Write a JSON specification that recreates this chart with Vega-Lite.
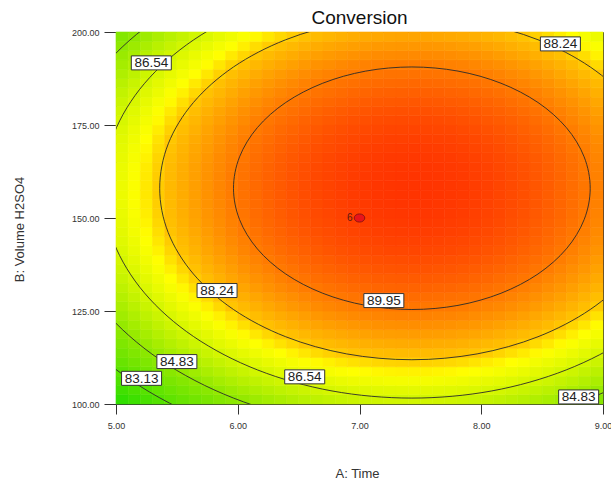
{
"width": 487, "height": 372,
"autosize": {"type": "none"},
"padding": {"left": 116, "top": 32, "right": 8, "bottom": 75},
"background": "white",
"title": {"text": "Conversion", "fontSize": 19, "font": "Liberation Sans", "fontWeight": "normal", "color": "#111", "offset": 7, "baseline": "alphabetic", "anchor": "middle", "dy": 22},
"config": {"view": {"stroke": null}, "axis": {"labelFont": "Liberation Sans", "titleFont": "Liberation Sans", "grid": false, "zindex": 1}},
"datasets": {
"labels": [
{"t":5.29,"v":191.7,"lab":"86.54"},
{"t":8.65,"v":196.8,"lab":"88.24"},
{"t":5.83,"v":130.5,"lab":"88.24"},
{"t":7.2,"v":127.8,"lab":"89.95"},
{"t":5.5,"v":111.4,"lab":"84.83"},
{"t":5.21,"v":106.9,"lab":"83.13"},
{"t":6.55,"v":107.3,"lab":"86.54"},
{"t":8.8,"v":101.9,"lab":"84.83"}
],
"contours": [
{"lev":"89.95","i":0,"t":8.895,"v":158},{"lev":"89.95","i":1,"t":8.845,"v":166.44},{"lev":"89.95","i":2,"t":8.699,"v":174.3},{"lev":"89.95","i":3,"t":8.466,"v":181.05},{"lev":"89.95","i":4,"t":8.162,"v":186.23},{"lev":"89.95","i":5,"t":7.809,"v":189.49},{"lev":"89.95","i":6,"t":7.43,"v":190.6},{"lev":"89.95","i":7,"t":7.051,"v":189.49},{"lev":"89.95","i":8,"t":6.698,"v":186.23},{"lev":"89.95","i":9,"t":6.394,"v":181.05},{"lev":"89.95","i":10,"t":6.161,"v":174.3},{"lev":"89.95","i":11,"t":6.015,"v":166.44},{"lev":"89.95","i":12,"t":5.965,"v":158},{"lev":"89.95","i":13,"t":6.015,"v":149.56},{"lev":"89.95","i":14,"t":6.161,"v":141.7},{"lev":"89.95","i":15,"t":6.394,"v":134.95},{"lev":"89.95","i":16,"t":6.698,"v":129.77},{"lev":"89.95","i":17,"t":7.051,"v":126.51},{"lev":"89.95","i":18,"t":7.43,"v":125.4},{"lev":"89.95","i":19,"t":7.809,"v":126.51},{"lev":"89.95","i":20,"t":8.162,"v":129.77},{"lev":"89.95","i":21,"t":8.466,"v":134.95},{"lev":"89.95","i":22,"t":8.699,"v":141.7},{"lev":"89.95","i":23,"t":8.845,"v":149.56},
{"lev":"88.24","i":0,"t":9.502,"v":158},{"lev":"88.24","i":1,"t":9.431,"v":169.93},{"lev":"88.24","i":2,"t":9.224,"v":181.05},{"lev":"88.24","i":3,"t":8.895,"v":190.6},{"lev":"88.24","i":4,"t":8.466,"v":197.92},{"lev":"88.24","i":5,"t":7.966,"v":202.53},{"lev":"88.24","i":6,"t":7.43,"v":204.1},{"lev":"88.24","i":7,"t":6.894,"v":202.53},{"lev":"88.24","i":8,"t":6.394,"v":197.92},{"lev":"88.24","i":9,"t":5.965,"v":190.6},{"lev":"88.24","i":10,"t":5.636,"v":181.05},{"lev":"88.24","i":11,"t":5.429,"v":169.93},{"lev":"88.24","i":12,"t":5.359,"v":158},{"lev":"88.24","i":13,"t":5.429,"v":146.07},{"lev":"88.24","i":14,"t":5.636,"v":134.95},{"lev":"88.24","i":15,"t":5.965,"v":125.4},{"lev":"88.24","i":16,"t":6.394,"v":118.08},{"lev":"88.24","i":17,"t":6.894,"v":113.47},{"lev":"88.24","i":18,"t":7.43,"v":111.9},{"lev":"88.24","i":19,"t":7.966,"v":113.47},{"lev":"88.24","i":20,"t":8.466,"v":118.08},{"lev":"88.24","i":21,"t":8.895,"v":125.4},{"lev":"88.24","i":22,"t":9.224,"v":134.95},{"lev":"88.24","i":23,"t":9.431,"v":146.07},
{"lev":"86.54","i":0,"t":9.965,"v":158},{"lev":"86.54","i":1,"t":9.878,"v":172.6},{"lev":"86.54","i":2,"t":9.625,"v":186.21},{"lev":"86.54","i":3,"t":9.222,"v":197.89},{"lev":"86.54","i":4,"t":8.697,"v":206.85},{"lev":"86.54","i":5,"t":8.086,"v":212.49},{"lev":"86.54","i":6,"t":7.43,"v":214.41},{"lev":"86.54","i":7,"t":6.774,"v":212.49},{"lev":"86.54","i":8,"t":6.163,"v":206.85},{"lev":"86.54","i":9,"t":5.638,"v":197.89},{"lev":"86.54","i":10,"t":5.235,"v":186.21},{"lev":"86.54","i":11,"t":4.982,"v":172.6},{"lev":"86.54","i":12,"t":4.895,"v":158},{"lev":"86.54","i":13,"t":4.982,"v":143.4},{"lev":"86.54","i":14,"t":5.235,"v":129.8},{"lev":"86.54","i":15,"t":5.638,"v":118.11},{"lev":"86.54","i":16,"t":6.163,"v":109.15},{"lev":"86.54","i":17,"t":6.774,"v":103.51},{"lev":"86.54","i":18,"t":7.43,"v":101.59},{"lev":"86.54","i":19,"t":8.086,"v":103.51},{"lev":"86.54","i":20,"t":8.697,"v":109.15},{"lev":"86.54","i":21,"t":9.222,"v":118.11},{"lev":"86.54","i":22,"t":9.625,"v":129.8},{"lev":"86.54","i":23,"t":9.878,"v":143.4},
{"lev":"84.83","i":0,"t":10.357,"v":158},{"lev":"84.83","i":1,"t":10.258,"v":174.86},{"lev":"84.83","i":2,"t":9.965,"v":190.58},{"lev":"84.83","i":3,"t":9.5,"v":204.07},{"lev":"84.83","i":4,"t":8.894,"v":214.42},{"lev":"84.83","i":5,"t":8.188,"v":220.93},{"lev":"84.83","i":6,"t":7.43,"v":223.15},{"lev":"84.83","i":7,"t":6.672,"v":220.93},{"lev":"84.83","i":8,"t":5.966,"v":214.42},{"lev":"84.83","i":9,"t":5.36,"v":204.07},{"lev":"84.83","i":10,"t":4.895,"v":190.58},{"lev":"84.83","i":11,"t":4.602,"v":174.86},{"lev":"84.83","i":12,"t":4.503,"v":158},{"lev":"84.83","i":13,"t":4.602,"v":141.14},{"lev":"84.83","i":14,"t":4.895,"v":125.43},{"lev":"84.83","i":15,"t":5.36,"v":111.93},{"lev":"84.83","i":16,"t":5.966,"v":101.58},{"lev":"84.83","i":17,"t":6.672,"v":95.07},{"lev":"84.83","i":18,"t":7.43,"v":92.85},{"lev":"84.83","i":19,"t":8.188,"v":95.07},{"lev":"84.83","i":20,"t":8.894,"v":101.58},{"lev":"84.83","i":21,"t":9.5,"v":111.93},{"lev":"84.83","i":22,"t":9.965,"v":125.43},{"lev":"84.83","i":23,"t":10.258,"v":141.14},
{"lev":"83.13","i":0,"t":10.702,"v":158},{"lev":"83.13","i":1,"t":10.59,"v":176.84},{"lev":"83.13","i":2,"t":10.263,"v":194.41},{"lev":"83.13","i":3,"t":9.743,"v":209.48},{"lev":"83.13","i":4,"t":9.066,"v":221.05},{"lev":"83.13","i":5,"t":8.277,"v":228.33},{"lev":"83.13","i":6,"t":7.43,"v":230.81},{"lev":"83.13","i":7,"t":6.583,"v":228.33},{"lev":"83.13","i":8,"t":5.794,"v":221.05},{"lev":"83.13","i":9,"t":5.117,"v":209.48},{"lev":"83.13","i":10,"t":4.597,"v":194.41},{"lev":"83.13","i":11,"t":4.27,"v":176.84},{"lev":"83.13","i":12,"t":4.158,"v":158},{"lev":"83.13","i":13,"t":4.27,"v":139.16},{"lev":"83.13","i":14,"t":4.597,"v":121.6},{"lev":"83.13","i":15,"t":5.117,"v":106.52},{"lev":"83.13","i":16,"t":5.794,"v":94.95},{"lev":"83.13","i":17,"t":6.583,"v":87.67},{"lev":"83.13","i":18,"t":7.43,"v":85.19},{"lev":"83.13","i":19,"t":8.277,"v":87.67},{"lev":"83.13","i":20,"t":9.066,"v":94.95},{"lev":"83.13","i":21,"t":9.743,"v":106.52},{"lev":"83.13","i":22,"t":10.263,"v":121.6},{"lev":"83.13","i":23,"t":10.59,"v":139.16}
],
"grid": [
{"t":5.05,"v":101.25,"c":81.97},{"t":5.15,"v":101.25,"c":82.34},{"t":5.25,"v":101.25,"c":82.69},{"t":5.35,"v":101.25,"c":83.03},{"t":5.45,"v":101.25,"c":83.36},{"t":5.55,"v":101.25,"c":83.66},{"t":5.65,"v":101.25,"c":83.95},{"t":5.75,"v":101.25,"c":84.23},{"t":5.85,"v":101.25,"c":84.49},{"t":5.95,"v":101.25,"c":84.73},{"t":6.05,"v":101.25,"c":84.96},{"t":6.15,"v":101.25,"c":85.17},{"t":6.25,"v":101.25,"c":85.37},{"t":6.35,"v":101.25,"c":85.55},{"t":6.45,"v":101.25,"c":85.71},{"t":6.55,"v":101.25,"c":85.86},{"t":6.65,"v":101.25,"c":86.0},{"t":6.75,"v":101.25,"c":86.11},{"t":6.85,"v":101.25,"c":86.21},{"t":6.95,"v":101.25,"c":86.3},{"t":7.05,"v":101.25,"c":86.36},{"t":7.15,"v":101.25,"c":86.42},{"t":7.25,"v":101.25,"c":86.45},{"t":7.35,"v":101.25,"c":86.47},{"t":7.45,"v":101.25,"c":86.48},{"t":7.55,"v":101.25,"c":86.47},{"t":7.65,"v":101.25,"c":86.44},{"t":7.75,"v":101.25,"c":86.4},{"t":7.85,"v":101.25,"c":86.34},{"t":7.95,"v":101.25,"c":86.26},{"t":8.05,"v":101.25,"c":86.17},{"t":8.15,"v":101.25,"c":86.07},{"t":8.25,"v":101.25,"c":85.94},{"t":8.35,"v":101.25,"c":85.81},{"t":8.45,"v":101.25,"c":85.65},{"t":8.55,"v":101.25,"c":85.48},{"t":8.65,"v":101.25,"c":85.29},{"t":8.75,"v":101.25,"c":85.09},{"t":8.85,"v":101.25,"c":84.87},{"t":8.95,"v":101.25,"c":84.64},
{"t":5.05,"v":103.75,"c":82.41},{"t":5.15,"v":103.75,"c":82.78},{"t":5.25,"v":103.75,"c":83.13},{"t":5.35,"v":103.75,"c":83.47},{"t":5.45,"v":103.75,"c":83.8},{"t":5.55,"v":103.75,"c":84.1},{"t":5.65,"v":103.75,"c":84.39},{"t":5.75,"v":103.75,"c":84.67},{"t":5.85,"v":103.75,"c":84.93},{"t":5.95,"v":103.75,"c":85.17},{"t":6.05,"v":103.75,"c":85.4},{"t":6.15,"v":103.75,"c":85.61},{"t":6.25,"v":103.75,"c":85.81},{"t":6.35,"v":103.75,"c":85.99},{"t":6.45,"v":103.75,"c":86.15},{"t":6.55,"v":103.75,"c":86.3},{"t":6.65,"v":103.75,"c":86.44},{"t":6.75,"v":103.75,"c":86.55},{"t":6.85,"v":103.75,"c":86.65},{"t":6.95,"v":103.75,"c":86.74},{"t":7.05,"v":103.75,"c":86.8},{"t":7.15,"v":103.75,"c":86.86},{"t":7.25,"v":103.75,"c":86.89},{"t":7.35,"v":103.75,"c":86.91},{"t":7.45,"v":103.75,"c":86.92},{"t":7.55,"v":103.75,"c":86.91},{"t":7.65,"v":103.75,"c":86.88},{"t":7.75,"v":103.75,"c":86.84},{"t":7.85,"v":103.75,"c":86.78},{"t":7.95,"v":103.75,"c":86.7},{"t":8.05,"v":103.75,"c":86.61},{"t":8.15,"v":103.75,"c":86.51},{"t":8.25,"v":103.75,"c":86.38},{"t":8.35,"v":103.75,"c":86.25},{"t":8.45,"v":103.75,"c":86.09},{"t":8.55,"v":103.75,"c":85.92},{"t":8.65,"v":103.75,"c":85.73},{"t":8.75,"v":103.75,"c":85.53},{"t":8.85,"v":103.75,"c":85.31},{"t":8.95,"v":103.75,"c":85.08},
{"t":5.05,"v":106.25,"c":82.84},{"t":5.15,"v":106.25,"c":83.21},{"t":5.25,"v":106.25,"c":83.56},{"t":5.35,"v":106.25,"c":83.9},{"t":5.45,"v":106.25,"c":84.23},{"t":5.55,"v":106.25,"c":84.53},{"t":5.65,"v":106.25,"c":84.82},{"t":5.75,"v":106.25,"c":85.1},{"t":5.85,"v":106.25,"c":85.36},{"t":5.95,"v":106.25,"c":85.6},{"t":6.05,"v":106.25,"c":85.83},{"t":6.15,"v":106.25,"c":86.04},{"t":6.25,"v":106.25,"c":86.24},{"t":6.35,"v":106.25,"c":86.42},{"t":6.45,"v":106.25,"c":86.58},{"t":6.55,"v":106.25,"c":86.73},{"t":6.65,"v":106.25,"c":86.87},{"t":6.75,"v":106.25,"c":86.98},{"t":6.85,"v":106.25,"c":87.08},{"t":6.95,"v":106.25,"c":87.17},{"t":7.05,"v":106.25,"c":87.23},{"t":7.15,"v":106.25,"c":87.29},{"t":7.25,"v":106.25,"c":87.32},{"t":7.35,"v":106.25,"c":87.34},{"t":7.45,"v":106.25,"c":87.35},{"t":7.55,"v":106.25,"c":87.34},{"t":7.65,"v":106.25,"c":87.31},{"t":7.75,"v":106.25,"c":87.27},{"t":7.85,"v":106.25,"c":87.21},{"t":7.95,"v":106.25,"c":87.13},{"t":8.05,"v":106.25,"c":87.04},{"t":8.15,"v":106.25,"c":86.94},{"t":8.25,"v":106.25,"c":86.81},{"t":8.35,"v":106.25,"c":86.68},{"t":8.45,"v":106.25,"c":86.52},{"t":8.55,"v":106.25,"c":86.35},{"t":8.65,"v":106.25,"c":86.16},{"t":8.75,"v":106.25,"c":85.96},{"t":8.85,"v":106.25,"c":85.74},{"t":8.95,"v":106.25,"c":85.51},
{"t":5.05,"v":108.75,"c":83.25},{"t":5.15,"v":108.75,"c":83.62},{"t":5.25,"v":108.75,"c":83.97},{"t":5.35,"v":108.75,"c":84.31},{"t":5.45,"v":108.75,"c":84.64},{"t":5.55,"v":108.75,"c":84.94},{"t":5.65,"v":108.75,"c":85.23},{"t":5.75,"v":108.75,"c":85.51},{"t":5.85,"v":108.75,"c":85.77},{"t":5.95,"v":108.75,"c":86.01},{"t":6.05,"v":108.75,"c":86.24},{"t":6.15,"v":108.75,"c":86.45},{"t":6.25,"v":108.75,"c":86.65},{"t":6.35,"v":108.75,"c":86.83},{"t":6.45,"v":108.75,"c":86.99},{"t":6.55,"v":108.75,"c":87.14},{"t":6.65,"v":108.75,"c":87.28},{"t":6.75,"v":108.75,"c":87.39},{"t":6.85,"v":108.75,"c":87.49},{"t":6.95,"v":108.75,"c":87.58},{"t":7.05,"v":108.75,"c":87.64},{"t":7.15,"v":108.75,"c":87.7},{"t":7.25,"v":108.75,"c":87.73},{"t":7.35,"v":108.75,"c":87.75},{"t":7.45,"v":108.75,"c":87.76},{"t":7.55,"v":108.75,"c":87.75},{"t":7.65,"v":108.75,"c":87.72},{"t":7.75,"v":108.75,"c":87.68},{"t":7.85,"v":108.75,"c":87.62},{"t":7.95,"v":108.75,"c":87.54},{"t":8.05,"v":108.75,"c":87.45},{"t":8.15,"v":108.75,"c":87.35},{"t":8.25,"v":108.75,"c":87.22},{"t":8.35,"v":108.75,"c":87.09},{"t":8.45,"v":108.75,"c":86.93},{"t":8.55,"v":108.75,"c":86.76},{"t":8.65,"v":108.75,"c":86.57},{"t":8.75,"v":108.75,"c":86.37},{"t":8.85,"v":108.75,"c":86.15},{"t":8.95,"v":108.75,"c":85.92},
{"t":5.05,"v":111.25,"c":83.63},{"t":5.15,"v":111.25,"c":84.0},{"t":5.25,"v":111.25,"c":84.35},{"t":5.35,"v":111.25,"c":84.69},{"t":5.45,"v":111.25,"c":85.02},{"t":5.55,"v":111.25,"c":85.32},{"t":5.65,"v":111.25,"c":85.61},{"t":5.75,"v":111.25,"c":85.89},{"t":5.85,"v":111.25,"c":86.15},{"t":5.95,"v":111.25,"c":86.39},{"t":6.05,"v":111.25,"c":86.62},{"t":6.15,"v":111.25,"c":86.83},{"t":6.25,"v":111.25,"c":87.03},{"t":6.35,"v":111.25,"c":87.21},{"t":6.45,"v":111.25,"c":87.37},{"t":6.55,"v":111.25,"c":87.52},{"t":6.65,"v":111.25,"c":87.66},{"t":6.75,"v":111.25,"c":87.77},{"t":6.85,"v":111.25,"c":87.87},{"t":6.95,"v":111.25,"c":87.96},{"t":7.05,"v":111.25,"c":88.02},{"t":7.15,"v":111.25,"c":88.08},{"t":7.25,"v":111.25,"c":88.11},{"t":7.35,"v":111.25,"c":88.13},{"t":7.45,"v":111.25,"c":88.14},{"t":7.55,"v":111.25,"c":88.13},{"t":7.65,"v":111.25,"c":88.1},{"t":7.75,"v":111.25,"c":88.06},{"t":7.85,"v":111.25,"c":88.0},{"t":7.95,"v":111.25,"c":87.92},{"t":8.05,"v":111.25,"c":87.83},{"t":8.15,"v":111.25,"c":87.73},{"t":8.25,"v":111.25,"c":87.6},{"t":8.35,"v":111.25,"c":87.47},{"t":8.45,"v":111.25,"c":87.31},{"t":8.55,"v":111.25,"c":87.14},{"t":8.65,"v":111.25,"c":86.95},{"t":8.75,"v":111.25,"c":86.75},{"t":8.85,"v":111.25,"c":86.53},{"t":8.95,"v":111.25,"c":86.3},
{"t":5.05,"v":113.75,"c":84.0},{"t":5.15,"v":113.75,"c":84.37},{"t":5.25,"v":113.75,"c":84.72},{"t":5.35,"v":113.75,"c":85.06},{"t":5.45,"v":113.75,"c":85.39},{"t":5.55,"v":113.75,"c":85.69},{"t":5.65,"v":113.75,"c":85.98},{"t":5.75,"v":113.75,"c":86.26},{"t":5.85,"v":113.75,"c":86.52},{"t":5.95,"v":113.75,"c":86.76},{"t":6.05,"v":113.75,"c":86.99},{"t":6.15,"v":113.75,"c":87.2},{"t":6.25,"v":113.75,"c":87.4},{"t":6.35,"v":113.75,"c":87.58},{"t":6.45,"v":113.75,"c":87.74},{"t":6.55,"v":113.75,"c":87.89},{"t":6.65,"v":113.75,"c":88.03},{"t":6.75,"v":113.75,"c":88.14},{"t":6.85,"v":113.75,"c":88.24},{"t":6.95,"v":113.75,"c":88.33},{"t":7.05,"v":113.75,"c":88.39},{"t":7.15,"v":113.75,"c":88.45},{"t":7.25,"v":113.75,"c":88.48},{"t":7.35,"v":113.75,"c":88.5},{"t":7.45,"v":113.75,"c":88.51},{"t":7.55,"v":113.75,"c":88.5},{"t":7.65,"v":113.75,"c":88.47},{"t":7.75,"v":113.75,"c":88.43},{"t":7.85,"v":113.75,"c":88.37},{"t":7.95,"v":113.75,"c":88.29},{"t":8.05,"v":113.75,"c":88.2},{"t":8.15,"v":113.75,"c":88.1},{"t":8.25,"v":113.75,"c":87.97},{"t":8.35,"v":113.75,"c":87.84},{"t":8.45,"v":113.75,"c":87.68},{"t":8.55,"v":113.75,"c":87.51},{"t":8.65,"v":113.75,"c":87.32},{"t":8.75,"v":113.75,"c":87.12},{"t":8.85,"v":113.75,"c":86.9},{"t":8.95,"v":113.75,"c":86.67},
{"t":5.05,"v":116.25,"c":84.35},{"t":5.15,"v":116.25,"c":84.72},{"t":5.25,"v":116.25,"c":85.07},{"t":5.35,"v":116.25,"c":85.41},{"t":5.45,"v":116.25,"c":85.74},{"t":5.55,"v":116.25,"c":86.04},{"t":5.65,"v":116.25,"c":86.33},{"t":5.75,"v":116.25,"c":86.61},{"t":5.85,"v":116.25,"c":86.87},{"t":5.95,"v":116.25,"c":87.11},{"t":6.05,"v":116.25,"c":87.34},{"t":6.15,"v":116.25,"c":87.55},{"t":6.25,"v":116.25,"c":87.75},{"t":6.35,"v":116.25,"c":87.93},{"t":6.45,"v":116.25,"c":88.09},{"t":6.55,"v":116.25,"c":88.24},{"t":6.65,"v":116.25,"c":88.38},{"t":6.75,"v":116.25,"c":88.49},{"t":6.85,"v":116.25,"c":88.59},{"t":6.95,"v":116.25,"c":88.68},{"t":7.05,"v":116.25,"c":88.74},{"t":7.15,"v":116.25,"c":88.8},{"t":7.25,"v":116.25,"c":88.83},{"t":7.35,"v":116.25,"c":88.85},{"t":7.45,"v":116.25,"c":88.86},{"t":7.55,"v":116.25,"c":88.85},{"t":7.65,"v":116.25,"c":88.82},{"t":7.75,"v":116.25,"c":88.78},{"t":7.85,"v":116.25,"c":88.72},{"t":7.95,"v":116.25,"c":88.64},{"t":8.05,"v":116.25,"c":88.55},{"t":8.15,"v":116.25,"c":88.45},{"t":8.25,"v":116.25,"c":88.32},{"t":8.35,"v":116.25,"c":88.19},{"t":8.45,"v":116.25,"c":88.03},{"t":8.55,"v":116.25,"c":87.86},{"t":8.65,"v":116.25,"c":87.67},{"t":8.75,"v":116.25,"c":87.47},{"t":8.85,"v":116.25,"c":87.25},{"t":8.95,"v":116.25,"c":87.02},
{"t":5.05,"v":118.75,"c":84.67},{"t":5.15,"v":118.75,"c":85.04},{"t":5.25,"v":118.75,"c":85.39},{"t":5.35,"v":118.75,"c":85.73},{"t":5.45,"v":118.75,"c":86.06},{"t":5.55,"v":118.75,"c":86.36},{"t":5.65,"v":118.75,"c":86.65},{"t":5.75,"v":118.75,"c":86.93},{"t":5.85,"v":118.75,"c":87.19},{"t":5.95,"v":118.75,"c":87.43},{"t":6.05,"v":118.75,"c":87.66},{"t":6.15,"v":118.75,"c":87.87},{"t":6.25,"v":118.75,"c":88.07},{"t":6.35,"v":118.75,"c":88.25},{"t":6.45,"v":118.75,"c":88.41},{"t":6.55,"v":118.75,"c":88.56},{"t":6.65,"v":118.75,"c":88.7},{"t":6.75,"v":118.75,"c":88.81},{"t":6.85,"v":118.75,"c":88.91},{"t":6.95,"v":118.75,"c":89.0},{"t":7.05,"v":118.75,"c":89.06},{"t":7.15,"v":118.75,"c":89.12},{"t":7.25,"v":118.75,"c":89.15},{"t":7.35,"v":118.75,"c":89.17},{"t":7.45,"v":118.75,"c":89.18},{"t":7.55,"v":118.75,"c":89.17},{"t":7.65,"v":118.75,"c":89.14},{"t":7.75,"v":118.75,"c":89.1},{"t":7.85,"v":118.75,"c":89.04},{"t":7.95,"v":118.75,"c":88.96},{"t":8.05,"v":118.75,"c":88.87},{"t":8.15,"v":118.75,"c":88.77},{"t":8.25,"v":118.75,"c":88.64},{"t":8.35,"v":118.75,"c":88.51},{"t":8.45,"v":118.75,"c":88.35},{"t":8.55,"v":118.75,"c":88.18},{"t":8.65,"v":118.75,"c":87.99},{"t":8.75,"v":118.75,"c":87.79},{"t":8.85,"v":118.75,"c":87.57},{"t":8.95,"v":118.75,"c":87.34},
{"t":5.05,"v":121.25,"c":84.98},{"t":5.15,"v":121.25,"c":85.35},{"t":5.25,"v":121.25,"c":85.7},{"t":5.35,"v":121.25,"c":86.04},{"t":5.45,"v":121.25,"c":86.37},{"t":5.55,"v":121.25,"c":86.67},{"t":5.65,"v":121.25,"c":86.96},{"t":5.75,"v":121.25,"c":87.24},{"t":5.85,"v":121.25,"c":87.5},{"t":5.95,"v":121.25,"c":87.74},{"t":6.05,"v":121.25,"c":87.97},{"t":6.15,"v":121.25,"c":88.18},{"t":6.25,"v":121.25,"c":88.38},{"t":6.35,"v":121.25,"c":88.56},{"t":6.45,"v":121.25,"c":88.72},{"t":6.55,"v":121.25,"c":88.87},{"t":6.65,"v":121.25,"c":89.01},{"t":6.75,"v":121.25,"c":89.12},{"t":6.85,"v":121.25,"c":89.22},{"t":6.95,"v":121.25,"c":89.31},{"t":7.05,"v":121.25,"c":89.37},{"t":7.15,"v":121.25,"c":89.43},{"t":7.25,"v":121.25,"c":89.46},{"t":7.35,"v":121.25,"c":89.48},{"t":7.45,"v":121.25,"c":89.49},{"t":7.55,"v":121.25,"c":89.48},{"t":7.65,"v":121.25,"c":89.45},{"t":7.75,"v":121.25,"c":89.41},{"t":7.85,"v":121.25,"c":89.35},{"t":7.95,"v":121.25,"c":89.27},{"t":8.05,"v":121.25,"c":89.18},{"t":8.15,"v":121.25,"c":89.08},{"t":8.25,"v":121.25,"c":88.95},{"t":8.35,"v":121.25,"c":88.82},{"t":8.45,"v":121.25,"c":88.66},{"t":8.55,"v":121.25,"c":88.49},{"t":8.65,"v":121.25,"c":88.3},{"t":8.75,"v":121.25,"c":88.1},{"t":8.85,"v":121.25,"c":87.88},{"t":8.95,"v":121.25,"c":87.65},
{"t":5.05,"v":123.75,"c":85.26},{"t":5.15,"v":123.75,"c":85.63},{"t":5.25,"v":123.75,"c":85.98},{"t":5.35,"v":123.75,"c":86.32},{"t":5.45,"v":123.75,"c":86.65},{"t":5.55,"v":123.75,"c":86.95},{"t":5.65,"v":123.75,"c":87.24},{"t":5.75,"v":123.75,"c":87.52},{"t":5.85,"v":123.75,"c":87.78},{"t":5.95,"v":123.75,"c":88.02},{"t":6.05,"v":123.75,"c":88.25},{"t":6.15,"v":123.75,"c":88.46},{"t":6.25,"v":123.75,"c":88.66},{"t":6.35,"v":123.75,"c":88.84},{"t":6.45,"v":123.75,"c":89.0},{"t":6.55,"v":123.75,"c":89.15},{"t":6.65,"v":123.75,"c":89.29},{"t":6.75,"v":123.75,"c":89.4},{"t":6.85,"v":123.75,"c":89.5},{"t":6.95,"v":123.75,"c":89.59},{"t":7.05,"v":123.75,"c":89.65},{"t":7.15,"v":123.75,"c":89.71},{"t":7.25,"v":123.75,"c":89.74},{"t":7.35,"v":123.75,"c":89.76},{"t":7.45,"v":123.75,"c":89.77},{"t":7.55,"v":123.75,"c":89.76},{"t":7.65,"v":123.75,"c":89.73},{"t":7.75,"v":123.75,"c":89.69},{"t":7.85,"v":123.75,"c":89.63},{"t":7.95,"v":123.75,"c":89.55},{"t":8.05,"v":123.75,"c":89.46},{"t":8.15,"v":123.75,"c":89.36},{"t":8.25,"v":123.75,"c":89.23},{"t":8.35,"v":123.75,"c":89.1},{"t":8.45,"v":123.75,"c":88.94},{"t":8.55,"v":123.75,"c":88.77},{"t":8.65,"v":123.75,"c":88.58},{"t":8.75,"v":123.75,"c":88.38},{"t":8.85,"v":123.75,"c":88.16},{"t":8.95,"v":123.75,"c":87.93},
{"t":5.05,"v":126.25,"c":85.53},{"t":5.15,"v":126.25,"c":85.9},{"t":5.25,"v":126.25,"c":86.25},{"t":5.35,"v":126.25,"c":86.59},{"t":5.45,"v":126.25,"c":86.92},{"t":5.55,"v":126.25,"c":87.22},{"t":5.65,"v":126.25,"c":87.51},{"t":5.75,"v":126.25,"c":87.79},{"t":5.85,"v":126.25,"c":88.05},{"t":5.95,"v":126.25,"c":88.29},{"t":6.05,"v":126.25,"c":88.52},{"t":6.15,"v":126.25,"c":88.73},{"t":6.25,"v":126.25,"c":88.93},{"t":6.35,"v":126.25,"c":89.11},{"t":6.45,"v":126.25,"c":89.27},{"t":6.55,"v":126.25,"c":89.42},{"t":6.65,"v":126.25,"c":89.56},{"t":6.75,"v":126.25,"c":89.67},{"t":6.85,"v":126.25,"c":89.77},{"t":6.95,"v":126.25,"c":89.86},{"t":7.05,"v":126.25,"c":89.92},{"t":7.15,"v":126.25,"c":89.98},{"t":7.25,"v":126.25,"c":90.01},{"t":7.35,"v":126.25,"c":90.03},{"t":7.45,"v":126.25,"c":90.04},{"t":7.55,"v":126.25,"c":90.03},{"t":7.65,"v":126.25,"c":90.0},{"t":7.75,"v":126.25,"c":89.96},{"t":7.85,"v":126.25,"c":89.9},{"t":7.95,"v":126.25,"c":89.82},{"t":8.05,"v":126.25,"c":89.73},{"t":8.15,"v":126.25,"c":89.63},{"t":8.25,"v":126.25,"c":89.5},{"t":8.35,"v":126.25,"c":89.37},{"t":8.45,"v":126.25,"c":89.21},{"t":8.55,"v":126.25,"c":89.04},{"t":8.65,"v":126.25,"c":88.85},{"t":8.75,"v":126.25,"c":88.65},{"t":8.85,"v":126.25,"c":88.43},{"t":8.95,"v":126.25,"c":88.2},
{"t":5.05,"v":128.75,"c":85.77},{"t":5.15,"v":128.75,"c":86.14},{"t":5.25,"v":128.75,"c":86.49},{"t":5.35,"v":128.75,"c":86.83},{"t":5.45,"v":128.75,"c":87.16},{"t":5.55,"v":128.75,"c":87.46},{"t":5.65,"v":128.75,"c":87.75},{"t":5.75,"v":128.75,"c":88.03},{"t":5.85,"v":128.75,"c":88.29},{"t":5.95,"v":128.75,"c":88.53},{"t":6.05,"v":128.75,"c":88.76},{"t":6.15,"v":128.75,"c":88.97},{"t":6.25,"v":128.75,"c":89.17},{"t":6.35,"v":128.75,"c":89.35},{"t":6.45,"v":128.75,"c":89.51},{"t":6.55,"v":128.75,"c":89.66},{"t":6.65,"v":128.75,"c":89.8},{"t":6.75,"v":128.75,"c":89.91},{"t":6.85,"v":128.75,"c":90.01},{"t":6.95,"v":128.75,"c":90.1},{"t":7.05,"v":128.75,"c":90.16},{"t":7.15,"v":128.75,"c":90.22},{"t":7.25,"v":128.75,"c":90.25},{"t":7.35,"v":128.75,"c":90.27},{"t":7.45,"v":128.75,"c":90.28},{"t":7.55,"v":128.75,"c":90.27},{"t":7.65,"v":128.75,"c":90.24},{"t":7.75,"v":128.75,"c":90.2},{"t":7.85,"v":128.75,"c":90.14},{"t":7.95,"v":128.75,"c":90.06},{"t":8.05,"v":128.75,"c":89.97},{"t":8.15,"v":128.75,"c":89.87},{"t":8.25,"v":128.75,"c":89.74},{"t":8.35,"v":128.75,"c":89.61},{"t":8.45,"v":128.75,"c":89.45},{"t":8.55,"v":128.75,"c":89.28},{"t":8.65,"v":128.75,"c":89.09},{"t":8.75,"v":128.75,"c":88.89},{"t":8.85,"v":128.75,"c":88.67},{"t":8.95,"v":128.75,"c":88.44},
{"t":5.05,"v":131.25,"c":86.0},{"t":5.15,"v":131.25,"c":86.37},{"t":5.25,"v":131.25,"c":86.72},{"t":5.35,"v":131.25,"c":87.06},{"t":5.45,"v":131.25,"c":87.39},{"t":5.55,"v":131.25,"c":87.69},{"t":5.65,"v":131.25,"c":87.98},{"t":5.75,"v":131.25,"c":88.26},{"t":5.85,"v":131.25,"c":88.52},{"t":5.95,"v":131.25,"c":88.76},{"t":6.05,"v":131.25,"c":88.99},{"t":6.15,"v":131.25,"c":89.2},{"t":6.25,"v":131.25,"c":89.4},{"t":6.35,"v":131.25,"c":89.58},{"t":6.45,"v":131.25,"c":89.74},{"t":6.55,"v":131.25,"c":89.89},{"t":6.65,"v":131.25,"c":90.03},{"t":6.75,"v":131.25,"c":90.14},{"t":6.85,"v":131.25,"c":90.24},{"t":6.95,"v":131.25,"c":90.33},{"t":7.05,"v":131.25,"c":90.39},{"t":7.15,"v":131.25,"c":90.45},{"t":7.25,"v":131.25,"c":90.48},{"t":7.35,"v":131.25,"c":90.5},{"t":7.45,"v":131.25,"c":90.51},{"t":7.55,"v":131.25,"c":90.5},{"t":7.65,"v":131.25,"c":90.47},{"t":7.75,"v":131.25,"c":90.43},{"t":7.85,"v":131.25,"c":90.37},{"t":7.95,"v":131.25,"c":90.29},{"t":8.05,"v":131.25,"c":90.2},{"t":8.15,"v":131.25,"c":90.1},{"t":8.25,"v":131.25,"c":89.97},{"t":8.35,"v":131.25,"c":89.84},{"t":8.45,"v":131.25,"c":89.68},{"t":8.55,"v":131.25,"c":89.51},{"t":8.65,"v":131.25,"c":89.32},{"t":8.75,"v":131.25,"c":89.12},{"t":8.85,"v":131.25,"c":88.9},{"t":8.95,"v":131.25,"c":88.67},
{"t":5.05,"v":133.75,"c":86.2},{"t":5.15,"v":133.75,"c":86.57},{"t":5.25,"v":133.75,"c":86.92},{"t":5.35,"v":133.75,"c":87.26},{"t":5.45,"v":133.75,"c":87.59},{"t":5.55,"v":133.75,"c":87.89},{"t":5.65,"v":133.75,"c":88.18},{"t":5.75,"v":133.75,"c":88.46},{"t":5.85,"v":133.75,"c":88.72},{"t":5.95,"v":133.75,"c":88.96},{"t":6.05,"v":133.75,"c":89.19},{"t":6.15,"v":133.75,"c":89.4},{"t":6.25,"v":133.75,"c":89.6},{"t":6.35,"v":133.75,"c":89.78},{"t":6.45,"v":133.75,"c":89.94},{"t":6.55,"v":133.75,"c":90.09},{"t":6.65,"v":133.75,"c":90.23},{"t":6.75,"v":133.75,"c":90.34},{"t":6.85,"v":133.75,"c":90.44},{"t":6.95,"v":133.75,"c":90.53},{"t":7.05,"v":133.75,"c":90.59},{"t":7.15,"v":133.75,"c":90.65},{"t":7.25,"v":133.75,"c":90.68},{"t":7.35,"v":133.75,"c":90.7},{"t":7.45,"v":133.75,"c":90.71},{"t":7.55,"v":133.75,"c":90.7},{"t":7.65,"v":133.75,"c":90.67},{"t":7.75,"v":133.75,"c":90.63},{"t":7.85,"v":133.75,"c":90.57},{"t":7.95,"v":133.75,"c":90.49},{"t":8.05,"v":133.75,"c":90.4},{"t":8.15,"v":133.75,"c":90.3},{"t":8.25,"v":133.75,"c":90.17},{"t":8.35,"v":133.75,"c":90.04},{"t":8.45,"v":133.75,"c":89.88},{"t":8.55,"v":133.75,"c":89.71},{"t":8.65,"v":133.75,"c":89.52},{"t":8.75,"v":133.75,"c":89.32},{"t":8.85,"v":133.75,"c":89.1},{"t":8.95,"v":133.75,"c":88.87},
{"t":5.05,"v":136.25,"c":86.39},{"t":5.15,"v":136.25,"c":86.76},{"t":5.25,"v":136.25,"c":87.11},{"t":5.35,"v":136.25,"c":87.45},{"t":5.45,"v":136.25,"c":87.78},{"t":5.55,"v":136.25,"c":88.08},{"t":5.65,"v":136.25,"c":88.37},{"t":5.75,"v":136.25,"c":88.65},{"t":5.85,"v":136.25,"c":88.91},{"t":5.95,"v":136.25,"c":89.15},{"t":6.05,"v":136.25,"c":89.38},{"t":6.15,"v":136.25,"c":89.59},{"t":6.25,"v":136.25,"c":89.79},{"t":6.35,"v":136.25,"c":89.97},{"t":6.45,"v":136.25,"c":90.13},{"t":6.55,"v":136.25,"c":90.28},{"t":6.65,"v":136.25,"c":90.42},{"t":6.75,"v":136.25,"c":90.53},{"t":6.85,"v":136.25,"c":90.63},{"t":6.95,"v":136.25,"c":90.72},{"t":7.05,"v":136.25,"c":90.78},{"t":7.15,"v":136.25,"c":90.84},{"t":7.25,"v":136.25,"c":90.87},{"t":7.35,"v":136.25,"c":90.89},{"t":7.45,"v":136.25,"c":90.9},{"t":7.55,"v":136.25,"c":90.89},{"t":7.65,"v":136.25,"c":90.86},{"t":7.75,"v":136.25,"c":90.82},{"t":7.85,"v":136.25,"c":90.76},{"t":7.95,"v":136.25,"c":90.68},{"t":8.05,"v":136.25,"c":90.59},{"t":8.15,"v":136.25,"c":90.49},{"t":8.25,"v":136.25,"c":90.36},{"t":8.35,"v":136.25,"c":90.23},{"t":8.45,"v":136.25,"c":90.07},{"t":8.55,"v":136.25,"c":89.9},{"t":8.65,"v":136.25,"c":89.71},{"t":8.75,"v":136.25,"c":89.51},{"t":8.85,"v":136.25,"c":89.29},{"t":8.95,"v":136.25,"c":89.06},
{"t":5.05,"v":138.75,"c":86.55},{"t":5.15,"v":138.75,"c":86.92},{"t":5.25,"v":138.75,"c":87.27},{"t":5.35,"v":138.75,"c":87.61},{"t":5.45,"v":138.75,"c":87.94},{"t":5.55,"v":138.75,"c":88.24},{"t":5.65,"v":138.75,"c":88.53},{"t":5.75,"v":138.75,"c":88.81},{"t":5.85,"v":138.75,"c":89.07},{"t":5.95,"v":138.75,"c":89.31},{"t":6.05,"v":138.75,"c":89.54},{"t":6.15,"v":138.75,"c":89.75},{"t":6.25,"v":138.75,"c":89.95},{"t":6.35,"v":138.75,"c":90.13},{"t":6.45,"v":138.75,"c":90.29},{"t":6.55,"v":138.75,"c":90.44},{"t":6.65,"v":138.75,"c":90.58},{"t":6.75,"v":138.75,"c":90.69},{"t":6.85,"v":138.75,"c":90.79},{"t":6.95,"v":138.75,"c":90.88},{"t":7.05,"v":138.75,"c":90.94},{"t":7.15,"v":138.75,"c":91.0},{"t":7.25,"v":138.75,"c":91.03},{"t":7.35,"v":138.75,"c":91.05},{"t":7.45,"v":138.75,"c":91.06},{"t":7.55,"v":138.75,"c":91.05},{"t":7.65,"v":138.75,"c":91.02},{"t":7.75,"v":138.75,"c":90.98},{"t":7.85,"v":138.75,"c":90.92},{"t":7.95,"v":138.75,"c":90.84},{"t":8.05,"v":138.75,"c":90.75},{"t":8.15,"v":138.75,"c":90.65},{"t":8.25,"v":138.75,"c":90.52},{"t":8.35,"v":138.75,"c":90.39},{"t":8.45,"v":138.75,"c":90.23},{"t":8.55,"v":138.75,"c":90.06},{"t":8.65,"v":138.75,"c":89.87},{"t":8.75,"v":138.75,"c":89.67},{"t":8.85,"v":138.75,"c":89.45},{"t":8.95,"v":138.75,"c":89.22},
{"t":5.05,"v":141.25,"c":86.7},{"t":5.15,"v":141.25,"c":87.07},{"t":5.25,"v":141.25,"c":87.42},{"t":5.35,"v":141.25,"c":87.76},{"t":5.45,"v":141.25,"c":88.09},{"t":5.55,"v":141.25,"c":88.39},{"t":5.65,"v":141.25,"c":88.68},{"t":5.75,"v":141.25,"c":88.96},{"t":5.85,"v":141.25,"c":89.22},{"t":5.95,"v":141.25,"c":89.46},{"t":6.05,"v":141.25,"c":89.69},{"t":6.15,"v":141.25,"c":89.9},{"t":6.25,"v":141.25,"c":90.1},{"t":6.35,"v":141.25,"c":90.28},{"t":6.45,"v":141.25,"c":90.44},{"t":6.55,"v":141.25,"c":90.59},{"t":6.65,"v":141.25,"c":90.73},{"t":6.75,"v":141.25,"c":90.84},{"t":6.85,"v":141.25,"c":90.94},{"t":6.95,"v":141.25,"c":91.03},{"t":7.05,"v":141.25,"c":91.09},{"t":7.15,"v":141.25,"c":91.15},{"t":7.25,"v":141.25,"c":91.18},{"t":7.35,"v":141.25,"c":91.2},{"t":7.45,"v":141.25,"c":91.21},{"t":7.55,"v":141.25,"c":91.2},{"t":7.65,"v":141.25,"c":91.17},{"t":7.75,"v":141.25,"c":91.13},{"t":7.85,"v":141.25,"c":91.07},{"t":7.95,"v":141.25,"c":90.99},{"t":8.05,"v":141.25,"c":90.9},{"t":8.15,"v":141.25,"c":90.8},{"t":8.25,"v":141.25,"c":90.67},{"t":8.35,"v":141.25,"c":90.54},{"t":8.45,"v":141.25,"c":90.38},{"t":8.55,"v":141.25,"c":90.21},{"t":8.65,"v":141.25,"c":90.02},{"t":8.75,"v":141.25,"c":89.82},{"t":8.85,"v":141.25,"c":89.6},{"t":8.95,"v":141.25,"c":89.37},
{"t":5.05,"v":143.75,"c":86.82},{"t":5.15,"v":143.75,"c":87.19},{"t":5.25,"v":143.75,"c":87.54},{"t":5.35,"v":143.75,"c":87.88},{"t":5.45,"v":143.75,"c":88.21},{"t":5.55,"v":143.75,"c":88.51},{"t":5.65,"v":143.75,"c":88.8},{"t":5.75,"v":143.75,"c":89.08},{"t":5.85,"v":143.75,"c":89.34},{"t":5.95,"v":143.75,"c":89.58},{"t":6.05,"v":143.75,"c":89.81},{"t":6.15,"v":143.75,"c":90.02},{"t":6.25,"v":143.75,"c":90.22},{"t":6.35,"v":143.75,"c":90.4},{"t":6.45,"v":143.75,"c":90.56},{"t":6.55,"v":143.75,"c":90.71},{"t":6.65,"v":143.75,"c":90.85},{"t":6.75,"v":143.75,"c":90.96},{"t":6.85,"v":143.75,"c":91.06},{"t":6.95,"v":143.75,"c":91.15},{"t":7.05,"v":143.75,"c":91.21},{"t":7.15,"v":143.75,"c":91.27},{"t":7.25,"v":143.75,"c":91.3},{"t":7.35,"v":143.75,"c":91.32},{"t":7.45,"v":143.75,"c":91.33},{"t":7.55,"v":143.75,"c":91.32},{"t":7.65,"v":143.75,"c":91.29},{"t":7.75,"v":143.75,"c":91.25},{"t":7.85,"v":143.75,"c":91.19},{"t":7.95,"v":143.75,"c":91.11},{"t":8.05,"v":143.75,"c":91.02},{"t":8.15,"v":143.75,"c":90.92},{"t":8.25,"v":143.75,"c":90.79},{"t":8.35,"v":143.75,"c":90.66},{"t":8.45,"v":143.75,"c":90.5},{"t":8.55,"v":143.75,"c":90.33},{"t":8.65,"v":143.75,"c":90.14},{"t":8.75,"v":143.75,"c":89.94},{"t":8.85,"v":143.75,"c":89.72},{"t":8.95,"v":143.75,"c":89.49},
{"t":5.05,"v":146.25,"c":86.93},{"t":5.15,"v":146.25,"c":87.3},{"t":5.25,"v":146.25,"c":87.65},{"t":5.35,"v":146.25,"c":87.99},{"t":5.45,"v":146.25,"c":88.32},{"t":5.55,"v":146.25,"c":88.62},{"t":5.65,"v":146.25,"c":88.91},{"t":5.75,"v":146.25,"c":89.19},{"t":5.85,"v":146.25,"c":89.45},{"t":5.95,"v":146.25,"c":89.69},{"t":6.05,"v":146.25,"c":89.92},{"t":6.15,"v":146.25,"c":90.13},{"t":6.25,"v":146.25,"c":90.33},{"t":6.35,"v":146.25,"c":90.51},{"t":6.45,"v":146.25,"c":90.67},{"t":6.55,"v":146.25,"c":90.82},{"t":6.65,"v":146.25,"c":90.96},{"t":6.75,"v":146.25,"c":91.07},{"t":6.85,"v":146.25,"c":91.17},{"t":6.95,"v":146.25,"c":91.26},{"t":7.05,"v":146.25,"c":91.32},{"t":7.15,"v":146.25,"c":91.38},{"t":7.25,"v":146.25,"c":91.41},{"t":7.35,"v":146.25,"c":91.43},{"t":7.45,"v":146.25,"c":91.44},{"t":7.55,"v":146.25,"c":91.43},{"t":7.65,"v":146.25,"c":91.4},{"t":7.75,"v":146.25,"c":91.36},{"t":7.85,"v":146.25,"c":91.3},{"t":7.95,"v":146.25,"c":91.22},{"t":8.05,"v":146.25,"c":91.13},{"t":8.15,"v":146.25,"c":91.03},{"t":8.25,"v":146.25,"c":90.9},{"t":8.35,"v":146.25,"c":90.77},{"t":8.45,"v":146.25,"c":90.61},{"t":8.55,"v":146.25,"c":90.44},{"t":8.65,"v":146.25,"c":90.25},{"t":8.75,"v":146.25,"c":90.05},{"t":8.85,"v":146.25,"c":89.83},{"t":8.95,"v":146.25,"c":89.6},
{"t":5.05,"v":148.75,"c":87.01},{"t":5.15,"v":148.75,"c":87.38},{"t":5.25,"v":148.75,"c":87.73},{"t":5.35,"v":148.75,"c":88.07},{"t":5.45,"v":148.75,"c":88.4},{"t":5.55,"v":148.75,"c":88.7},{"t":5.65,"v":148.75,"c":88.99},{"t":5.75,"v":148.75,"c":89.27},{"t":5.85,"v":148.75,"c":89.53},{"t":5.95,"v":148.75,"c":89.77},{"t":6.05,"v":148.75,"c":90.0},{"t":6.15,"v":148.75,"c":90.21},{"t":6.25,"v":148.75,"c":90.41},{"t":6.35,"v":148.75,"c":90.59},{"t":6.45,"v":148.75,"c":90.75},{"t":6.55,"v":148.75,"c":90.9},{"t":6.65,"v":148.75,"c":91.04},{"t":6.75,"v":148.75,"c":91.15},{"t":6.85,"v":148.75,"c":91.25},{"t":6.95,"v":148.75,"c":91.34},{"t":7.05,"v":148.75,"c":91.4},{"t":7.15,"v":148.75,"c":91.46},{"t":7.25,"v":148.75,"c":91.49},{"t":7.35,"v":148.75,"c":91.51},{"t":7.45,"v":148.75,"c":91.52},{"t":7.55,"v":148.75,"c":91.51},{"t":7.65,"v":148.75,"c":91.48},{"t":7.75,"v":148.75,"c":91.44},{"t":7.85,"v":148.75,"c":91.38},{"t":7.95,"v":148.75,"c":91.3},{"t":8.05,"v":148.75,"c":91.21},{"t":8.15,"v":148.75,"c":91.11},{"t":8.25,"v":148.75,"c":90.98},{"t":8.35,"v":148.75,"c":90.85},{"t":8.45,"v":148.75,"c":90.69},{"t":8.55,"v":148.75,"c":90.52},{"t":8.65,"v":148.75,"c":90.33},{"t":8.75,"v":148.75,"c":90.13},{"t":8.85,"v":148.75,"c":89.91},{"t":8.95,"v":148.75,"c":89.68},
{"t":5.05,"v":151.25,"c":87.08},{"t":5.15,"v":151.25,"c":87.45},{"t":5.25,"v":151.25,"c":87.8},{"t":5.35,"v":151.25,"c":88.14},{"t":5.45,"v":151.25,"c":88.47},{"t":5.55,"v":151.25,"c":88.77},{"t":5.65,"v":151.25,"c":89.06},{"t":5.75,"v":151.25,"c":89.34},{"t":5.85,"v":151.25,"c":89.6},{"t":5.95,"v":151.25,"c":89.84},{"t":6.05,"v":151.25,"c":90.07},{"t":6.15,"v":151.25,"c":90.28},{"t":6.25,"v":151.25,"c":90.48},{"t":6.35,"v":151.25,"c":90.66},{"t":6.45,"v":151.25,"c":90.82},{"t":6.55,"v":151.25,"c":90.97},{"t":6.65,"v":151.25,"c":91.11},{"t":6.75,"v":151.25,"c":91.22},{"t":6.85,"v":151.25,"c":91.32},{"t":6.95,"v":151.25,"c":91.41},{"t":7.05,"v":151.25,"c":91.47},{"t":7.15,"v":151.25,"c":91.53},{"t":7.25,"v":151.25,"c":91.56},{"t":7.35,"v":151.25,"c":91.58},{"t":7.45,"v":151.25,"c":91.59},{"t":7.55,"v":151.25,"c":91.58},{"t":7.65,"v":151.25,"c":91.55},{"t":7.75,"v":151.25,"c":91.51},{"t":7.85,"v":151.25,"c":91.45},{"t":7.95,"v":151.25,"c":91.37},{"t":8.05,"v":151.25,"c":91.28},{"t":8.15,"v":151.25,"c":91.18},{"t":8.25,"v":151.25,"c":91.05},{"t":8.35,"v":151.25,"c":90.92},{"t":8.45,"v":151.25,"c":90.76},{"t":8.55,"v":151.25,"c":90.59},{"t":8.65,"v":151.25,"c":90.4},{"t":8.75,"v":151.25,"c":90.2},{"t":8.85,"v":151.25,"c":89.98},{"t":8.95,"v":151.25,"c":89.75},
{"t":5.05,"v":153.75,"c":87.12},{"t":5.15,"v":153.75,"c":87.49},{"t":5.25,"v":153.75,"c":87.84},{"t":5.35,"v":153.75,"c":88.18},{"t":5.45,"v":153.75,"c":88.51},{"t":5.55,"v":153.75,"c":88.81},{"t":5.65,"v":153.75,"c":89.1},{"t":5.75,"v":153.75,"c":89.38},{"t":5.85,"v":153.75,"c":89.64},{"t":5.95,"v":153.75,"c":89.88},{"t":6.05,"v":153.75,"c":90.11},{"t":6.15,"v":153.75,"c":90.32},{"t":6.25,"v":153.75,"c":90.52},{"t":6.35,"v":153.75,"c":90.7},{"t":6.45,"v":153.75,"c":90.86},{"t":6.55,"v":153.75,"c":91.01},{"t":6.65,"v":153.75,"c":91.15},{"t":6.75,"v":153.75,"c":91.26},{"t":6.85,"v":153.75,"c":91.36},{"t":6.95,"v":153.75,"c":91.45},{"t":7.05,"v":153.75,"c":91.51},{"t":7.15,"v":153.75,"c":91.57},{"t":7.25,"v":153.75,"c":91.6},{"t":7.35,"v":153.75,"c":91.62},{"t":7.45,"v":153.75,"c":91.63},{"t":7.55,"v":153.75,"c":91.62},{"t":7.65,"v":153.75,"c":91.59},{"t":7.75,"v":153.75,"c":91.55},{"t":7.85,"v":153.75,"c":91.49},{"t":7.95,"v":153.75,"c":91.41},{"t":8.05,"v":153.75,"c":91.32},{"t":8.15,"v":153.75,"c":91.22},{"t":8.25,"v":153.75,"c":91.09},{"t":8.35,"v":153.75,"c":90.96},{"t":8.45,"v":153.75,"c":90.8},{"t":8.55,"v":153.75,"c":90.63},{"t":8.65,"v":153.75,"c":90.44},{"t":8.75,"v":153.75,"c":90.24},{"t":8.85,"v":153.75,"c":90.02},{"t":8.95,"v":153.75,"c":89.79},
{"t":5.05,"v":156.25,"c":87.15},{"t":5.15,"v":156.25,"c":87.52},{"t":5.25,"v":156.25,"c":87.87},{"t":5.35,"v":156.25,"c":88.21},{"t":5.45,"v":156.25,"c":88.54},{"t":5.55,"v":156.25,"c":88.84},{"t":5.65,"v":156.25,"c":89.13},{"t":5.75,"v":156.25,"c":89.41},{"t":5.85,"v":156.25,"c":89.67},{"t":5.95,"v":156.25,"c":89.91},{"t":6.05,"v":156.25,"c":90.14},{"t":6.15,"v":156.25,"c":90.35},{"t":6.25,"v":156.25,"c":90.55},{"t":6.35,"v":156.25,"c":90.73},{"t":6.45,"v":156.25,"c":90.89},{"t":6.55,"v":156.25,"c":91.04},{"t":6.65,"v":156.25,"c":91.18},{"t":6.75,"v":156.25,"c":91.29},{"t":6.85,"v":156.25,"c":91.39},{"t":6.95,"v":156.25,"c":91.48},{"t":7.05,"v":156.25,"c":91.54},{"t":7.15,"v":156.25,"c":91.6},{"t":7.25,"v":156.25,"c":91.63},{"t":7.35,"v":156.25,"c":91.65},{"t":7.45,"v":156.25,"c":91.66},{"t":7.55,"v":156.25,"c":91.65},{"t":7.65,"v":156.25,"c":91.62},{"t":7.75,"v":156.25,"c":91.58},{"t":7.85,"v":156.25,"c":91.52},{"t":7.95,"v":156.25,"c":91.44},{"t":8.05,"v":156.25,"c":91.35},{"t":8.15,"v":156.25,"c":91.25},{"t":8.25,"v":156.25,"c":91.12},{"t":8.35,"v":156.25,"c":90.99},{"t":8.45,"v":156.25,"c":90.83},{"t":8.55,"v":156.25,"c":90.66},{"t":8.65,"v":156.25,"c":90.47},{"t":8.75,"v":156.25,"c":90.27},{"t":8.85,"v":156.25,"c":90.05},{"t":8.95,"v":156.25,"c":89.82},
{"t":5.05,"v":158.75,"c":87.15},{"t":5.15,"v":158.75,"c":87.52},{"t":5.25,"v":158.75,"c":87.87},{"t":5.35,"v":158.75,"c":88.21},{"t":5.45,"v":158.75,"c":88.54},{"t":5.55,"v":158.75,"c":88.84},{"t":5.65,"v":158.75,"c":89.13},{"t":5.75,"v":158.75,"c":89.41},{"t":5.85,"v":158.75,"c":89.67},{"t":5.95,"v":158.75,"c":89.91},{"t":6.05,"v":158.75,"c":90.14},{"t":6.15,"v":158.75,"c":90.35},{"t":6.25,"v":158.75,"c":90.55},{"t":6.35,"v":158.75,"c":90.73},{"t":6.45,"v":158.75,"c":90.89},{"t":6.55,"v":158.75,"c":91.04},{"t":6.65,"v":158.75,"c":91.18},{"t":6.75,"v":158.75,"c":91.29},{"t":6.85,"v":158.75,"c":91.39},{"t":6.95,"v":158.75,"c":91.48},{"t":7.05,"v":158.75,"c":91.54},{"t":7.15,"v":158.75,"c":91.6},{"t":7.25,"v":158.75,"c":91.63},{"t":7.35,"v":158.75,"c":91.65},{"t":7.45,"v":158.75,"c":91.66},{"t":7.55,"v":158.75,"c":91.65},{"t":7.65,"v":158.75,"c":91.62},{"t":7.75,"v":158.75,"c":91.58},{"t":7.85,"v":158.75,"c":91.52},{"t":7.95,"v":158.75,"c":91.44},{"t":8.05,"v":158.75,"c":91.35},{"t":8.15,"v":158.75,"c":91.25},{"t":8.25,"v":158.75,"c":91.12},{"t":8.35,"v":158.75,"c":90.99},{"t":8.45,"v":158.75,"c":90.83},{"t":8.55,"v":158.75,"c":90.66},{"t":8.65,"v":158.75,"c":90.47},{"t":8.75,"v":158.75,"c":90.27},{"t":8.85,"v":158.75,"c":90.05},{"t":8.95,"v":158.75,"c":89.82},
{"t":5.05,"v":161.25,"c":87.13},{"t":5.15,"v":161.25,"c":87.5},{"t":5.25,"v":161.25,"c":87.85},{"t":5.35,"v":161.25,"c":88.19},{"t":5.45,"v":161.25,"c":88.52},{"t":5.55,"v":161.25,"c":88.82},{"t":5.65,"v":161.25,"c":89.11},{"t":5.75,"v":161.25,"c":89.39},{"t":5.85,"v":161.25,"c":89.65},{"t":5.95,"v":161.25,"c":89.89},{"t":6.05,"v":161.25,"c":90.12},{"t":6.15,"v":161.25,"c":90.33},{"t":6.25,"v":161.25,"c":90.53},{"t":6.35,"v":161.25,"c":90.71},{"t":6.45,"v":161.25,"c":90.87},{"t":6.55,"v":161.25,"c":91.02},{"t":6.65,"v":161.25,"c":91.16},{"t":6.75,"v":161.25,"c":91.27},{"t":6.85,"v":161.25,"c":91.37},{"t":6.95,"v":161.25,"c":91.46},{"t":7.05,"v":161.25,"c":91.52},{"t":7.15,"v":161.25,"c":91.58},{"t":7.25,"v":161.25,"c":91.61},{"t":7.35,"v":161.25,"c":91.63},{"t":7.45,"v":161.25,"c":91.64},{"t":7.55,"v":161.25,"c":91.63},{"t":7.65,"v":161.25,"c":91.6},{"t":7.75,"v":161.25,"c":91.56},{"t":7.85,"v":161.25,"c":91.5},{"t":7.95,"v":161.25,"c":91.42},{"t":8.05,"v":161.25,"c":91.33},{"t":8.15,"v":161.25,"c":91.23},{"t":8.25,"v":161.25,"c":91.1},{"t":8.35,"v":161.25,"c":90.97},{"t":8.45,"v":161.25,"c":90.81},{"t":8.55,"v":161.25,"c":90.64},{"t":8.65,"v":161.25,"c":90.45},{"t":8.75,"v":161.25,"c":90.25},{"t":8.85,"v":161.25,"c":90.03},{"t":8.95,"v":161.25,"c":89.8},
{"t":5.05,"v":163.75,"c":87.1},{"t":5.15,"v":163.75,"c":87.47},{"t":5.25,"v":163.75,"c":87.82},{"t":5.35,"v":163.75,"c":88.16},{"t":5.45,"v":163.75,"c":88.49},{"t":5.55,"v":163.75,"c":88.79},{"t":5.65,"v":163.75,"c":89.08},{"t":5.75,"v":163.75,"c":89.36},{"t":5.85,"v":163.75,"c":89.62},{"t":5.95,"v":163.75,"c":89.86},{"t":6.05,"v":163.75,"c":90.09},{"t":6.15,"v":163.75,"c":90.3},{"t":6.25,"v":163.75,"c":90.5},{"t":6.35,"v":163.75,"c":90.68},{"t":6.45,"v":163.75,"c":90.84},{"t":6.55,"v":163.75,"c":90.99},{"t":6.65,"v":163.75,"c":91.13},{"t":6.75,"v":163.75,"c":91.24},{"t":6.85,"v":163.75,"c":91.34},{"t":6.95,"v":163.75,"c":91.43},{"t":7.05,"v":163.75,"c":91.49},{"t":7.15,"v":163.75,"c":91.55},{"t":7.25,"v":163.75,"c":91.58},{"t":7.35,"v":163.75,"c":91.6},{"t":7.45,"v":163.75,"c":91.61},{"t":7.55,"v":163.75,"c":91.6},{"t":7.65,"v":163.75,"c":91.57},{"t":7.75,"v":163.75,"c":91.53},{"t":7.85,"v":163.75,"c":91.47},{"t":7.95,"v":163.75,"c":91.39},{"t":8.05,"v":163.75,"c":91.3},{"t":8.15,"v":163.75,"c":91.2},{"t":8.25,"v":163.75,"c":91.07},{"t":8.35,"v":163.75,"c":90.94},{"t":8.45,"v":163.75,"c":90.78},{"t":8.55,"v":163.75,"c":90.61},{"t":8.65,"v":163.75,"c":90.42},{"t":8.75,"v":163.75,"c":90.22},{"t":8.85,"v":163.75,"c":90.0},{"t":8.95,"v":163.75,"c":89.77},
{"t":5.05,"v":166.25,"c":87.04},{"t":5.15,"v":166.25,"c":87.41},{"t":5.25,"v":166.25,"c":87.76},{"t":5.35,"v":166.25,"c":88.1},{"t":5.45,"v":166.25,"c":88.43},{"t":5.55,"v":166.25,"c":88.73},{"t":5.65,"v":166.25,"c":89.02},{"t":5.75,"v":166.25,"c":89.3},{"t":5.85,"v":166.25,"c":89.56},{"t":5.95,"v":166.25,"c":89.8},{"t":6.05,"v":166.25,"c":90.03},{"t":6.15,"v":166.25,"c":90.24},{"t":6.25,"v":166.25,"c":90.44},{"t":6.35,"v":166.25,"c":90.62},{"t":6.45,"v":166.25,"c":90.78},{"t":6.55,"v":166.25,"c":90.93},{"t":6.65,"v":166.25,"c":91.07},{"t":6.75,"v":166.25,"c":91.18},{"t":6.85,"v":166.25,"c":91.28},{"t":6.95,"v":166.25,"c":91.37},{"t":7.05,"v":166.25,"c":91.43},{"t":7.15,"v":166.25,"c":91.49},{"t":7.25,"v":166.25,"c":91.52},{"t":7.35,"v":166.25,"c":91.54},{"t":7.45,"v":166.25,"c":91.55},{"t":7.55,"v":166.25,"c":91.54},{"t":7.65,"v":166.25,"c":91.51},{"t":7.75,"v":166.25,"c":91.47},{"t":7.85,"v":166.25,"c":91.41},{"t":7.95,"v":166.25,"c":91.33},{"t":8.05,"v":166.25,"c":91.24},{"t":8.15,"v":166.25,"c":91.14},{"t":8.25,"v":166.25,"c":91.01},{"t":8.35,"v":166.25,"c":90.88},{"t":8.45,"v":166.25,"c":90.72},{"t":8.55,"v":166.25,"c":90.55},{"t":8.65,"v":166.25,"c":90.36},{"t":8.75,"v":166.25,"c":90.16},{"t":8.85,"v":166.25,"c":89.94},{"t":8.95,"v":166.25,"c":89.71},
{"t":5.05,"v":168.75,"c":86.96},{"t":5.15,"v":168.75,"c":87.33},{"t":5.25,"v":168.75,"c":87.68},{"t":5.35,"v":168.75,"c":88.02},{"t":5.45,"v":168.75,"c":88.35},{"t":5.55,"v":168.75,"c":88.65},{"t":5.65,"v":168.75,"c":88.94},{"t":5.75,"v":168.75,"c":89.22},{"t":5.85,"v":168.75,"c":89.48},{"t":5.95,"v":168.75,"c":89.72},{"t":6.05,"v":168.75,"c":89.95},{"t":6.15,"v":168.75,"c":90.16},{"t":6.25,"v":168.75,"c":90.36},{"t":6.35,"v":168.75,"c":90.54},{"t":6.45,"v":168.75,"c":90.7},{"t":6.55,"v":168.75,"c":90.85},{"t":6.65,"v":168.75,"c":90.99},{"t":6.75,"v":168.75,"c":91.1},{"t":6.85,"v":168.75,"c":91.2},{"t":6.95,"v":168.75,"c":91.29},{"t":7.05,"v":168.75,"c":91.35},{"t":7.15,"v":168.75,"c":91.41},{"t":7.25,"v":168.75,"c":91.44},{"t":7.35,"v":168.75,"c":91.46},{"t":7.45,"v":168.75,"c":91.47},{"t":7.55,"v":168.75,"c":91.46},{"t":7.65,"v":168.75,"c":91.43},{"t":7.75,"v":168.75,"c":91.39},{"t":7.85,"v":168.75,"c":91.33},{"t":7.95,"v":168.75,"c":91.25},{"t":8.05,"v":168.75,"c":91.16},{"t":8.15,"v":168.75,"c":91.06},{"t":8.25,"v":168.75,"c":90.93},{"t":8.35,"v":168.75,"c":90.8},{"t":8.45,"v":168.75,"c":90.64},{"t":8.55,"v":168.75,"c":90.47},{"t":8.65,"v":168.75,"c":90.28},{"t":8.75,"v":168.75,"c":90.08},{"t":8.85,"v":168.75,"c":89.86},{"t":8.95,"v":168.75,"c":89.63},
{"t":5.05,"v":171.25,"c":86.87},{"t":5.15,"v":171.25,"c":87.24},{"t":5.25,"v":171.25,"c":87.59},{"t":5.35,"v":171.25,"c":87.93},{"t":5.45,"v":171.25,"c":88.26},{"t":5.55,"v":171.25,"c":88.56},{"t":5.65,"v":171.25,"c":88.85},{"t":5.75,"v":171.25,"c":89.13},{"t":5.85,"v":171.25,"c":89.39},{"t":5.95,"v":171.25,"c":89.63},{"t":6.05,"v":171.25,"c":89.86},{"t":6.15,"v":171.25,"c":90.07},{"t":6.25,"v":171.25,"c":90.27},{"t":6.35,"v":171.25,"c":90.45},{"t":6.45,"v":171.25,"c":90.61},{"t":6.55,"v":171.25,"c":90.76},{"t":6.65,"v":171.25,"c":90.9},{"t":6.75,"v":171.25,"c":91.01},{"t":6.85,"v":171.25,"c":91.11},{"t":6.95,"v":171.25,"c":91.2},{"t":7.05,"v":171.25,"c":91.26},{"t":7.15,"v":171.25,"c":91.32},{"t":7.25,"v":171.25,"c":91.35},{"t":7.35,"v":171.25,"c":91.37},{"t":7.45,"v":171.25,"c":91.38},{"t":7.55,"v":171.25,"c":91.37},{"t":7.65,"v":171.25,"c":91.34},{"t":7.75,"v":171.25,"c":91.3},{"t":7.85,"v":171.25,"c":91.24},{"t":7.95,"v":171.25,"c":91.16},{"t":8.05,"v":171.25,"c":91.07},{"t":8.15,"v":171.25,"c":90.97},{"t":8.25,"v":171.25,"c":90.84},{"t":8.35,"v":171.25,"c":90.71},{"t":8.45,"v":171.25,"c":90.55},{"t":8.55,"v":171.25,"c":90.38},{"t":8.65,"v":171.25,"c":90.19},{"t":8.75,"v":171.25,"c":89.99},{"t":8.85,"v":171.25,"c":89.77},{"t":8.95,"v":171.25,"c":89.54},
{"t":5.05,"v":173.75,"c":86.75},{"t":5.15,"v":173.75,"c":87.12},{"t":5.25,"v":173.75,"c":87.47},{"t":5.35,"v":173.75,"c":87.81},{"t":5.45,"v":173.75,"c":88.14},{"t":5.55,"v":173.75,"c":88.44},{"t":5.65,"v":173.75,"c":88.73},{"t":5.75,"v":173.75,"c":89.01},{"t":5.85,"v":173.75,"c":89.27},{"t":5.95,"v":173.75,"c":89.51},{"t":6.05,"v":173.75,"c":89.74},{"t":6.15,"v":173.75,"c":89.95},{"t":6.25,"v":173.75,"c":90.15},{"t":6.35,"v":173.75,"c":90.33},{"t":6.45,"v":173.75,"c":90.49},{"t":6.55,"v":173.75,"c":90.64},{"t":6.65,"v":173.75,"c":90.78},{"t":6.75,"v":173.75,"c":90.89},{"t":6.85,"v":173.75,"c":90.99},{"t":6.95,"v":173.75,"c":91.08},{"t":7.05,"v":173.75,"c":91.14},{"t":7.15,"v":173.75,"c":91.2},{"t":7.25,"v":173.75,"c":91.23},{"t":7.35,"v":173.75,"c":91.25},{"t":7.45,"v":173.75,"c":91.26},{"t":7.55,"v":173.75,"c":91.25},{"t":7.65,"v":173.75,"c":91.22},{"t":7.75,"v":173.75,"c":91.18},{"t":7.85,"v":173.75,"c":91.12},{"t":7.95,"v":173.75,"c":91.04},{"t":8.05,"v":173.75,"c":90.95},{"t":8.15,"v":173.75,"c":90.85},{"t":8.25,"v":173.75,"c":90.72},{"t":8.35,"v":173.75,"c":90.59},{"t":8.45,"v":173.75,"c":90.43},{"t":8.55,"v":173.75,"c":90.26},{"t":8.65,"v":173.75,"c":90.07},{"t":8.75,"v":173.75,"c":89.87},{"t":8.85,"v":173.75,"c":89.65},{"t":8.95,"v":173.75,"c":89.42},
{"t":5.05,"v":176.25,"c":86.61},{"t":5.15,"v":176.25,"c":86.98},{"t":5.25,"v":176.25,"c":87.33},{"t":5.35,"v":176.25,"c":87.67},{"t":5.45,"v":176.25,"c":88.0},{"t":5.55,"v":176.25,"c":88.3},{"t":5.65,"v":176.25,"c":88.59},{"t":5.75,"v":176.25,"c":88.87},{"t":5.85,"v":176.25,"c":89.13},{"t":5.95,"v":176.25,"c":89.37},{"t":6.05,"v":176.25,"c":89.6},{"t":6.15,"v":176.25,"c":89.81},{"t":6.25,"v":176.25,"c":90.01},{"t":6.35,"v":176.25,"c":90.19},{"t":6.45,"v":176.25,"c":90.35},{"t":6.55,"v":176.25,"c":90.5},{"t":6.65,"v":176.25,"c":90.64},{"t":6.75,"v":176.25,"c":90.75},{"t":6.85,"v":176.25,"c":90.85},{"t":6.95,"v":176.25,"c":90.94},{"t":7.05,"v":176.25,"c":91.0},{"t":7.15,"v":176.25,"c":91.06},{"t":7.25,"v":176.25,"c":91.09},{"t":7.35,"v":176.25,"c":91.11},{"t":7.45,"v":176.25,"c":91.12},{"t":7.55,"v":176.25,"c":91.11},{"t":7.65,"v":176.25,"c":91.08},{"t":7.75,"v":176.25,"c":91.04},{"t":7.85,"v":176.25,"c":90.98},{"t":7.95,"v":176.25,"c":90.9},{"t":8.05,"v":176.25,"c":90.81},{"t":8.15,"v":176.25,"c":90.71},{"t":8.25,"v":176.25,"c":90.58},{"t":8.35,"v":176.25,"c":90.45},{"t":8.45,"v":176.25,"c":90.29},{"t":8.55,"v":176.25,"c":90.12},{"t":8.65,"v":176.25,"c":89.93},{"t":8.75,"v":176.25,"c":89.73},{"t":8.85,"v":176.25,"c":89.51},{"t":8.95,"v":176.25,"c":89.28},
{"t":5.05,"v":178.75,"c":86.46},{"t":5.15,"v":178.75,"c":86.83},{"t":5.25,"v":178.75,"c":87.18},{"t":5.35,"v":178.75,"c":87.52},{"t":5.45,"v":178.75,"c":87.85},{"t":5.55,"v":178.75,"c":88.15},{"t":5.65,"v":178.75,"c":88.44},{"t":5.75,"v":178.75,"c":88.72},{"t":5.85,"v":178.75,"c":88.98},{"t":5.95,"v":178.75,"c":89.22},{"t":6.05,"v":178.75,"c":89.45},{"t":6.15,"v":178.75,"c":89.66},{"t":6.25,"v":178.75,"c":89.86},{"t":6.35,"v":178.75,"c":90.04},{"t":6.45,"v":178.75,"c":90.2},{"t":6.55,"v":178.75,"c":90.35},{"t":6.65,"v":178.75,"c":90.49},{"t":6.75,"v":178.75,"c":90.6},{"t":6.85,"v":178.75,"c":90.7},{"t":6.95,"v":178.75,"c":90.79},{"t":7.05,"v":178.75,"c":90.85},{"t":7.15,"v":178.75,"c":90.91},{"t":7.25,"v":178.75,"c":90.94},{"t":7.35,"v":178.75,"c":90.96},{"t":7.45,"v":178.75,"c":90.97},{"t":7.55,"v":178.75,"c":90.96},{"t":7.65,"v":178.75,"c":90.93},{"t":7.75,"v":178.75,"c":90.89},{"t":7.85,"v":178.75,"c":90.83},{"t":7.95,"v":178.75,"c":90.75},{"t":8.05,"v":178.75,"c":90.66},{"t":8.15,"v":178.75,"c":90.56},{"t":8.25,"v":178.75,"c":90.43},{"t":8.35,"v":178.75,"c":90.3},{"t":8.45,"v":178.75,"c":90.14},{"t":8.55,"v":178.75,"c":89.97},{"t":8.65,"v":178.75,"c":89.78},{"t":8.75,"v":178.75,"c":89.58},{"t":8.85,"v":178.75,"c":89.36},{"t":8.95,"v":178.75,"c":89.13},
{"t":5.05,"v":181.25,"c":86.28},{"t":5.15,"v":181.25,"c":86.65},{"t":5.25,"v":181.25,"c":87.0},{"t":5.35,"v":181.25,"c":87.34},{"t":5.45,"v":181.25,"c":87.67},{"t":5.55,"v":181.25,"c":87.97},{"t":5.65,"v":181.25,"c":88.26},{"t":5.75,"v":181.25,"c":88.54},{"t":5.85,"v":181.25,"c":88.8},{"t":5.95,"v":181.25,"c":89.04},{"t":6.05,"v":181.25,"c":89.27},{"t":6.15,"v":181.25,"c":89.48},{"t":6.25,"v":181.25,"c":89.68},{"t":6.35,"v":181.25,"c":89.86},{"t":6.45,"v":181.25,"c":90.02},{"t":6.55,"v":181.25,"c":90.17},{"t":6.65,"v":181.25,"c":90.31},{"t":6.75,"v":181.25,"c":90.42},{"t":6.85,"v":181.25,"c":90.52},{"t":6.95,"v":181.25,"c":90.61},{"t":7.05,"v":181.25,"c":90.67},{"t":7.15,"v":181.25,"c":90.73},{"t":7.25,"v":181.25,"c":90.76},{"t":7.35,"v":181.25,"c":90.78},{"t":7.45,"v":181.25,"c":90.79},{"t":7.55,"v":181.25,"c":90.78},{"t":7.65,"v":181.25,"c":90.75},{"t":7.75,"v":181.25,"c":90.71},{"t":7.85,"v":181.25,"c":90.65},{"t":7.95,"v":181.25,"c":90.57},{"t":8.05,"v":181.25,"c":90.48},{"t":8.15,"v":181.25,"c":90.38},{"t":8.25,"v":181.25,"c":90.25},{"t":8.35,"v":181.25,"c":90.12},{"t":8.45,"v":181.25,"c":89.96},{"t":8.55,"v":181.25,"c":89.79},{"t":8.65,"v":181.25,"c":89.6},{"t":8.75,"v":181.25,"c":89.4},{"t":8.85,"v":181.25,"c":89.18},{"t":8.95,"v":181.25,"c":88.95},
{"t":5.05,"v":183.75,"c":86.08},{"t":5.15,"v":183.75,"c":86.45},{"t":5.25,"v":183.75,"c":86.8},{"t":5.35,"v":183.75,"c":87.14},{"t":5.45,"v":183.75,"c":87.47},{"t":5.55,"v":183.75,"c":87.77},{"t":5.65,"v":183.75,"c":88.06},{"t":5.75,"v":183.75,"c":88.34},{"t":5.85,"v":183.75,"c":88.6},{"t":5.95,"v":183.75,"c":88.84},{"t":6.05,"v":183.75,"c":89.07},{"t":6.15,"v":183.75,"c":89.28},{"t":6.25,"v":183.75,"c":89.48},{"t":6.35,"v":183.75,"c":89.66},{"t":6.45,"v":183.75,"c":89.82},{"t":6.55,"v":183.75,"c":89.97},{"t":6.65,"v":183.75,"c":90.11},{"t":6.75,"v":183.75,"c":90.22},{"t":6.85,"v":183.75,"c":90.32},{"t":6.95,"v":183.75,"c":90.41},{"t":7.05,"v":183.75,"c":90.47},{"t":7.15,"v":183.75,"c":90.53},{"t":7.25,"v":183.75,"c":90.56},{"t":7.35,"v":183.75,"c":90.58},{"t":7.45,"v":183.75,"c":90.59},{"t":7.55,"v":183.75,"c":90.58},{"t":7.65,"v":183.75,"c":90.55},{"t":7.75,"v":183.75,"c":90.51},{"t":7.85,"v":183.75,"c":90.45},{"t":7.95,"v":183.75,"c":90.37},{"t":8.05,"v":183.75,"c":90.28},{"t":8.15,"v":183.75,"c":90.18},{"t":8.25,"v":183.75,"c":90.05},{"t":8.35,"v":183.75,"c":89.92},{"t":8.45,"v":183.75,"c":89.76},{"t":8.55,"v":183.75,"c":89.59},{"t":8.65,"v":183.75,"c":89.4},{"t":8.75,"v":183.75,"c":89.2},{"t":8.85,"v":183.75,"c":88.98},{"t":8.95,"v":183.75,"c":88.75},
{"t":5.05,"v":186.25,"c":85.87},{"t":5.15,"v":186.25,"c":86.24},{"t":5.25,"v":186.25,"c":86.59},{"t":5.35,"v":186.25,"c":86.93},{"t":5.45,"v":186.25,"c":87.26},{"t":5.55,"v":186.25,"c":87.56},{"t":5.65,"v":186.25,"c":87.85},{"t":5.75,"v":186.25,"c":88.13},{"t":5.85,"v":186.25,"c":88.39},{"t":5.95,"v":186.25,"c":88.63},{"t":6.05,"v":186.25,"c":88.86},{"t":6.15,"v":186.25,"c":89.07},{"t":6.25,"v":186.25,"c":89.27},{"t":6.35,"v":186.25,"c":89.45},{"t":6.45,"v":186.25,"c":89.61},{"t":6.55,"v":186.25,"c":89.76},{"t":6.65,"v":186.25,"c":89.9},{"t":6.75,"v":186.25,"c":90.01},{"t":6.85,"v":186.25,"c":90.11},{"t":6.95,"v":186.25,"c":90.2},{"t":7.05,"v":186.25,"c":90.26},{"t":7.15,"v":186.25,"c":90.32},{"t":7.25,"v":186.25,"c":90.35},{"t":7.35,"v":186.25,"c":90.37},{"t":7.45,"v":186.25,"c":90.38},{"t":7.55,"v":186.25,"c":90.37},{"t":7.65,"v":186.25,"c":90.34},{"t":7.75,"v":186.25,"c":90.3},{"t":7.85,"v":186.25,"c":90.24},{"t":7.95,"v":186.25,"c":90.16},{"t":8.05,"v":186.25,"c":90.07},{"t":8.15,"v":186.25,"c":89.97},{"t":8.25,"v":186.25,"c":89.84},{"t":8.35,"v":186.25,"c":89.71},{"t":8.45,"v":186.25,"c":89.55},{"t":8.55,"v":186.25,"c":89.38},{"t":8.65,"v":186.25,"c":89.19},{"t":8.75,"v":186.25,"c":88.99},{"t":8.85,"v":186.25,"c":88.77},{"t":8.95,"v":186.25,"c":88.54},
{"t":5.05,"v":188.75,"c":85.63},{"t":5.15,"v":188.75,"c":86.0},{"t":5.25,"v":188.75,"c":86.35},{"t":5.35,"v":188.75,"c":86.69},{"t":5.45,"v":188.75,"c":87.02},{"t":5.55,"v":188.75,"c":87.32},{"t":5.65,"v":188.75,"c":87.61},{"t":5.75,"v":188.75,"c":87.89},{"t":5.85,"v":188.75,"c":88.15},{"t":5.95,"v":188.75,"c":88.39},{"t":6.05,"v":188.75,"c":88.62},{"t":6.15,"v":188.75,"c":88.83},{"t":6.25,"v":188.75,"c":89.03},{"t":6.35,"v":188.75,"c":89.21},{"t":6.45,"v":188.75,"c":89.37},{"t":6.55,"v":188.75,"c":89.52},{"t":6.65,"v":188.75,"c":89.66},{"t":6.75,"v":188.75,"c":89.77},{"t":6.85,"v":188.75,"c":89.87},{"t":6.95,"v":188.75,"c":89.96},{"t":7.05,"v":188.75,"c":90.02},{"t":7.15,"v":188.75,"c":90.08},{"t":7.25,"v":188.75,"c":90.11},{"t":7.35,"v":188.75,"c":90.13},{"t":7.45,"v":188.75,"c":90.14},{"t":7.55,"v":188.75,"c":90.13},{"t":7.65,"v":188.75,"c":90.1},{"t":7.75,"v":188.75,"c":90.06},{"t":7.85,"v":188.75,"c":90.0},{"t":7.95,"v":188.75,"c":89.92},{"t":8.05,"v":188.75,"c":89.83},{"t":8.15,"v":188.75,"c":89.73},{"t":8.25,"v":188.75,"c":89.6},{"t":8.35,"v":188.75,"c":89.47},{"t":8.45,"v":188.75,"c":89.31},{"t":8.55,"v":188.75,"c":89.14},{"t":8.65,"v":188.75,"c":88.95},{"t":8.75,"v":188.75,"c":88.75},{"t":8.85,"v":188.75,"c":88.53},{"t":8.95,"v":188.75,"c":88.3},
{"t":5.05,"v":191.25,"c":85.37},{"t":5.15,"v":191.25,"c":85.74},{"t":5.25,"v":191.25,"c":86.09},{"t":5.35,"v":191.25,"c":86.43},{"t":5.45,"v":191.25,"c":86.76},{"t":5.55,"v":191.25,"c":87.06},{"t":5.65,"v":191.25,"c":87.35},{"t":5.75,"v":191.25,"c":87.63},{"t":5.85,"v":191.25,"c":87.89},{"t":5.95,"v":191.25,"c":88.13},{"t":6.05,"v":191.25,"c":88.36},{"t":6.15,"v":191.25,"c":88.57},{"t":6.25,"v":191.25,"c":88.77},{"t":6.35,"v":191.25,"c":88.95},{"t":6.45,"v":191.25,"c":89.11},{"t":6.55,"v":191.25,"c":89.26},{"t":6.65,"v":191.25,"c":89.4},{"t":6.75,"v":191.25,"c":89.51},{"t":6.85,"v":191.25,"c":89.61},{"t":6.95,"v":191.25,"c":89.7},{"t":7.05,"v":191.25,"c":89.76},{"t":7.15,"v":191.25,"c":89.82},{"t":7.25,"v":191.25,"c":89.85},{"t":7.35,"v":191.25,"c":89.87},{"t":7.45,"v":191.25,"c":89.88},{"t":7.55,"v":191.25,"c":89.87},{"t":7.65,"v":191.25,"c":89.84},{"t":7.75,"v":191.25,"c":89.8},{"t":7.85,"v":191.25,"c":89.74},{"t":7.95,"v":191.25,"c":89.66},{"t":8.05,"v":191.25,"c":89.57},{"t":8.15,"v":191.25,"c":89.47},{"t":8.25,"v":191.25,"c":89.34},{"t":8.35,"v":191.25,"c":89.21},{"t":8.45,"v":191.25,"c":89.05},{"t":8.55,"v":191.25,"c":88.88},{"t":8.65,"v":191.25,"c":88.69},{"t":8.75,"v":191.25,"c":88.49},{"t":8.85,"v":191.25,"c":88.27},{"t":8.95,"v":191.25,"c":88.04},
{"t":5.05,"v":193.75,"c":85.09},{"t":5.15,"v":193.75,"c":85.46},{"t":5.25,"v":193.75,"c":85.81},{"t":5.35,"v":193.75,"c":86.15},{"t":5.45,"v":193.75,"c":86.48},{"t":5.55,"v":193.75,"c":86.78},{"t":5.65,"v":193.75,"c":87.07},{"t":5.75,"v":193.75,"c":87.35},{"t":5.85,"v":193.75,"c":87.61},{"t":5.95,"v":193.75,"c":87.85},{"t":6.05,"v":193.75,"c":88.08},{"t":6.15,"v":193.75,"c":88.29},{"t":6.25,"v":193.75,"c":88.49},{"t":6.35,"v":193.75,"c":88.67},{"t":6.45,"v":193.75,"c":88.83},{"t":6.55,"v":193.75,"c":88.98},{"t":6.65,"v":193.75,"c":89.12},{"t":6.75,"v":193.75,"c":89.23},{"t":6.85,"v":193.75,"c":89.33},{"t":6.95,"v":193.75,"c":89.42},{"t":7.05,"v":193.75,"c":89.48},{"t":7.15,"v":193.75,"c":89.54},{"t":7.25,"v":193.75,"c":89.57},{"t":7.35,"v":193.75,"c":89.59},{"t":7.45,"v":193.75,"c":89.6},{"t":7.55,"v":193.75,"c":89.59},{"t":7.65,"v":193.75,"c":89.56},{"t":7.75,"v":193.75,"c":89.52},{"t":7.85,"v":193.75,"c":89.46},{"t":7.95,"v":193.75,"c":89.38},{"t":8.05,"v":193.75,"c":89.29},{"t":8.15,"v":193.75,"c":89.19},{"t":8.25,"v":193.75,"c":89.06},{"t":8.35,"v":193.75,"c":88.93},{"t":8.45,"v":193.75,"c":88.77},{"t":8.55,"v":193.75,"c":88.6},{"t":8.65,"v":193.75,"c":88.41},{"t":8.75,"v":193.75,"c":88.21},{"t":8.85,"v":193.75,"c":87.99},{"t":8.95,"v":193.75,"c":87.76},
{"t":5.05,"v":196.25,"c":84.8},{"t":5.15,"v":196.25,"c":85.17},{"t":5.25,"v":196.25,"c":85.52},{"t":5.35,"v":196.25,"c":85.86},{"t":5.45,"v":196.25,"c":86.19},{"t":5.55,"v":196.25,"c":86.49},{"t":5.65,"v":196.25,"c":86.78},{"t":5.75,"v":196.25,"c":87.06},{"t":5.85,"v":196.25,"c":87.32},{"t":5.95,"v":196.25,"c":87.56},{"t":6.05,"v":196.25,"c":87.79},{"t":6.15,"v":196.25,"c":88.0},{"t":6.25,"v":196.25,"c":88.2},{"t":6.35,"v":196.25,"c":88.38},{"t":6.45,"v":196.25,"c":88.54},{"t":6.55,"v":196.25,"c":88.69},{"t":6.65,"v":196.25,"c":88.83},{"t":6.75,"v":196.25,"c":88.94},{"t":6.85,"v":196.25,"c":89.04},{"t":6.95,"v":196.25,"c":89.13},{"t":7.05,"v":196.25,"c":89.19},{"t":7.15,"v":196.25,"c":89.25},{"t":7.25,"v":196.25,"c":89.28},{"t":7.35,"v":196.25,"c":89.3},{"t":7.45,"v":196.25,"c":89.31},{"t":7.55,"v":196.25,"c":89.3},{"t":7.65,"v":196.25,"c":89.27},{"t":7.75,"v":196.25,"c":89.23},{"t":7.85,"v":196.25,"c":89.17},{"t":7.95,"v":196.25,"c":89.09},{"t":8.05,"v":196.25,"c":89.0},{"t":8.15,"v":196.25,"c":88.9},{"t":8.25,"v":196.25,"c":88.77},{"t":8.35,"v":196.25,"c":88.64},{"t":8.45,"v":196.25,"c":88.48},{"t":8.55,"v":196.25,"c":88.31},{"t":8.65,"v":196.25,"c":88.12},{"t":8.75,"v":196.25,"c":87.92},{"t":8.85,"v":196.25,"c":87.7},{"t":8.95,"v":196.25,"c":87.47},
{"t":5.05,"v":198.75,"c":84.48},{"t":5.15,"v":198.75,"c":84.85},{"t":5.25,"v":198.75,"c":85.2},{"t":5.35,"v":198.75,"c":85.54},{"t":5.45,"v":198.75,"c":85.87},{"t":5.55,"v":198.75,"c":86.17},{"t":5.65,"v":198.75,"c":86.46},{"t":5.75,"v":198.75,"c":86.74},{"t":5.85,"v":198.75,"c":87.0},{"t":5.95,"v":198.75,"c":87.24},{"t":6.05,"v":198.75,"c":87.47},{"t":6.15,"v":198.75,"c":87.68},{"t":6.25,"v":198.75,"c":87.88},{"t":6.35,"v":198.75,"c":88.06},{"t":6.45,"v":198.75,"c":88.22},{"t":6.55,"v":198.75,"c":88.37},{"t":6.65,"v":198.75,"c":88.51},{"t":6.75,"v":198.75,"c":88.62},{"t":6.85,"v":198.75,"c":88.72},{"t":6.95,"v":198.75,"c":88.81},{"t":7.05,"v":198.75,"c":88.87},{"t":7.15,"v":198.75,"c":88.93},{"t":7.25,"v":198.75,"c":88.96},{"t":7.35,"v":198.75,"c":88.98},{"t":7.45,"v":198.75,"c":88.99},{"t":7.55,"v":198.75,"c":88.98},{"t":7.65,"v":198.75,"c":88.95},{"t":7.75,"v":198.75,"c":88.91},{"t":7.85,"v":198.75,"c":88.85},{"t":7.95,"v":198.75,"c":88.77},{"t":8.05,"v":198.75,"c":88.68},{"t":8.15,"v":198.75,"c":88.58},{"t":8.25,"v":198.75,"c":88.45},{"t":8.35,"v":198.75,"c":88.32},{"t":8.45,"v":198.75,"c":88.16},{"t":8.55,"v":198.75,"c":87.99},{"t":8.65,"v":198.75,"c":87.8},{"t":8.75,"v":198.75,"c":87.6},{"t":8.85,"v":198.75,"c":87.38},{"t":8.95,"v":198.75,"c":87.15}
]
},
"layer": [
{
"data": {"name": "grid"},
"mark": {"type": "rect", "strokeWidth": 0.6},
"encoding": {
"x": {"field": "t", "type": "ordinal", "scale": {"paddingInner": 0, "paddingOuter": 0}, "axis": {"orient": "top", "labels": false, "ticks": false, "title": null, "domainColor": "#333", "domainWidth": 1}},
"y": {"field": "v", "type": "ordinal", "sort": "descending", "scale": {"paddingInner": 0, "paddingOuter": 0}, "axis": {"orient": "right", "labels": false, "ticks": false, "title": null, "domainColor": "#333", "domainWidth": 1}},
"color": {"field": "c", "type": "quantitative", "legend": null, "scale": {"domain": [81.5, 84.8, 87.6, 88.3, 89.9, 91.7], "range": ["#22dd00", "#8ee800", "#ffff00", "#ffc400", "#ff7c00", "#ff3200"], "interpolate": "rgb"}},
"stroke": {"field": "c", "type": "quantitative", "legend": null, "scale": {"domain": [81.5, 84.8, 87.6, 88.3, 89.9, 91.7], "range": ["#22dd00", "#8ee800", "#ffff00", "#ffc400", "#ff7c00", "#ff3200"], "interpolate": "rgb"}}
}
},
{
"encoding": {
"x": {"field": "t", "type": "quantitative", "scale": {"domain": [5, 9], "nice": false, "zero": false}, "axis": {"orient": "bottom", "values": [5, 6, 7, 8, 9], "format": ".2f", "labelFontSize": 9, "labelColor": "#333", "labelFlush": false, "tickSize": 10, "tickColor": "#333", "domainColor": "#333", "labelPadding": 7, "title": "A: Time", "titleFontSize": 13, "titleFontWeight": "normal", "titleColor": "#333", "titleX": 241, "titleY": 73, "titleBaseline": "alphabetic", "titleAlign": "center"}},
"y": {"field": "v", "type": "quantitative", "scale": {"domain": [100, 200], "nice": false, "zero": false}, "axis": {"orient": "left", "values": [100, 125, 150, 175, 200], "format": ".2f", "labelFontSize": 9, "labelColor": "#333", "labelFlush": false, "tickSize": 12, "tickColor": "#333", "domainColor": "#333", "labelPadding": 5, "title": "B: Volume H2SO4", "titleFontSize": 13, "titleFontWeight": "normal", "titleColor": "#333", "titleAngle": -90, "titleX": -93, "titleY": 197, "titleBaseline": "alphabetic", "titleAlign": "center"}}
},
"layer": [
{"data": {"name": "contours"}, "mark": {"type": "line", "interpolate": "cardinal-closed", "clip": true, "color": "#2a2a2a", "strokeWidth": 0.9}, "encoding": {"detail": {"field": "lev", "type": "nominal"}, "order": {"field": "i", "type": "quantitative"}}},
{"data": {"name": "labels"}, "mark": {"type": "point", "shape": "M-20,-7H20V7H-20Z", "size": 4, "filled": true, "color": "white", "stroke": "#333", "strokeWidth": 1, "opacity": 1}},
{"data": {"name": "labels"}, "mark": {"type": "text", "font": "Liberation Sans", "fontSize": 13.5, "color": "#222", "baseline": "middle", "align": "center", "dy": 0.5}, "encoding": {"text": {"field": "lab", "type": "nominal"}}},
{"data": {"values": [{"t": 7, "v": 150, "n": "6"}]}, "mark": {"type": "point", "shape": "M-5.3,0A5.3,4.1,0,1,1,5.3,0A5.3,4.1,0,1,1,-5.3,0Z", "size": 4, "filled": true, "color": "#e8141a", "stroke": "#7a1010", "strokeWidth": 0.8, "opacity": 1}},
{"data": {"values": [{"t": 7, "v": 150, "n": "6"}]}, "mark": {"type": "text", "font": "Liberation Sans", "fontSize": 10, "color": "#5a1a10", "align": "right", "baseline": "middle", "dx": -7}, "encoding": {"text": {"field": "n", "type": "nominal"}}}
]
}
],
"resolve": {"scale": {"x": "independent", "y": "independent"}}
}
